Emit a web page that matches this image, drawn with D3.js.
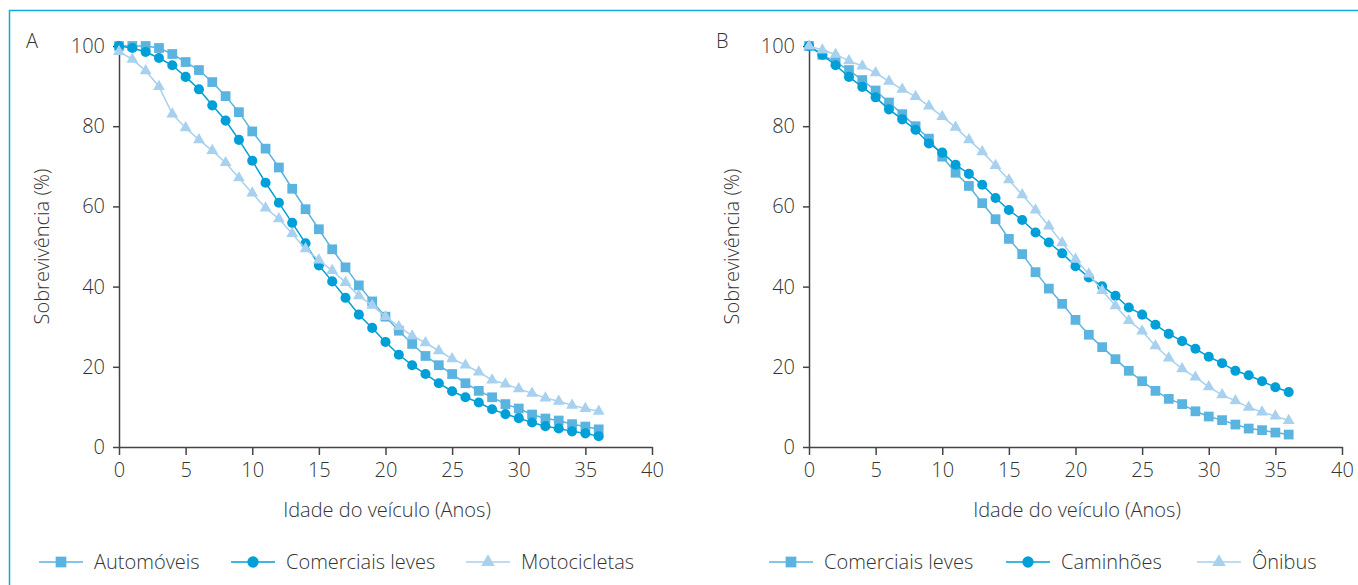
<!DOCTYPE html>
<html>
<head>
<meta charset="utf-8">
<script src="https://cdnjs.cloudflare.com/ajax/libs/d3/7.8.5/d3.min.js"></script>
<style>
  body { margin: 0; background: #fff; }
  svg text { font-family: "Open Sans", "Noto Sans", sans-serif; font-weight: 300; fill: #333; }
  .axis path, .axis line { stroke: #444; stroke-width: 1.5; }
  .axis text { fill: #333; }
</style>
</head>
<body>
<div id="chart"></div>
<script>
// ages 0..36
var ages = d3.range(0, 37);

// Panel A
var automoveis = [100, 100, 100, 99.5, 98, 96, 94, 91, 87.5, 83.5, 78.7, 74.4, 69.7, 64.4, 59.3,
  54.3, 49.3, 44.8, 40.3, 36.3, 32.5, 29.0, 25.7, 22.7, 20.4, 18.2, 15.9, 14.0, 12.4, 10.7,
  9.6, 8.1, 7.1, 6.6, 5.7, 5.1, 4.4];
var comerciaisA = [100, 99.5, 98.5, 97, 95.2, 92.3, 89.2, 85.2, 81.4, 76.6, 71.4, 65.9, 60.9, 55.9, 50.8,
  45.3, 41.3, 37.2, 33.0, 29.7, 26.2, 23.0, 20.4, 18.2, 15.9, 13.9, 12.4, 11.1, 9.4, 8.2,
  7.2, 6.1, 5.2, 4.6, 3.9, 3.4, 2.7];
var motocicletas = [98.6, 96.7, 93.8, 89.9, 83, 79.6, 76.6, 73.9, 70.9, 67.1, 63.3, 59.6, 56.9, 53.2, 49.4,
  46.6, 44.0, 41.0, 37.7, 35.3, 32.5, 30.0, 27.7, 26.0, 24.0, 22.0, 20.4, 18.7, 16.7, 15.7,
  14.5, 13.4, 12.2, 11.4, 10.4, 9.6, 8.9];

// Panel B
var comerciaisB = [100, 97.8, 96, 94, 91.5, 88.9, 85.9, 83.0, 80.0, 76.9, 72.4, 68.4, 65.1, 60.8, 56.8,
  51.9, 48.1, 43.6, 39.5, 35.7, 31.7, 28.0, 24.9, 21.9, 19.0, 16.4, 14.0, 12.0, 10.7, 8.9,
  7.6, 6.7, 5.6, 4.6, 4.2, 3.6, 3.1];
var caminhoes = [100, 97.8, 95.2, 92.3, 89.8, 87.2, 84.2, 81.7, 79.1, 75.7, 73.4, 70.4, 68.1, 65.4, 62.1,
  59.1, 56.6, 53.5, 51.0, 48.3, 45.1, 42.3, 40.1, 37.7, 34.8, 33.0, 30.5, 28.2, 26.4, 24.5,
  22.5, 20.9, 19.0, 17.9, 16.4, 14.9, 13.7];
var onibus = [100, 99, 97.9, 96.3, 95, 93.3, 91.2, 89.2, 87.4, 85.0, 82.4, 79.7, 76.6, 73.6, 70.2,
  66.6, 62.9, 59.1, 55.1, 50.9, 46.8, 43.1, 39.0, 35.2, 31.5, 28.9, 25.2, 22.2, 19.5, 17.4,
  15.0, 13.0, 11.5, 9.9, 8.7, 7.7, 6.6];

var xTicks = [0, 5, 10, 15, 20, 25, 30, 35, 40];
var yTicks = [0, 20, 40, 60, 80, 100];

var colSquare = "#5bb3df", colCircle = "#019fd7", colTriangle = "#a7d1ef";

var panels = [
  { label: "A", left: 119, series: [
    { name: "Automóveis", values: automoveis, symbol: d3.symbolSquare, color: colSquare, legendX: 39 },
    { name: "Comerciais leves", values: comerciaisA, symbol: d3.symbolCircle, color: colCircle, legendX: 231 },
    { name: "Motocicletas", values: motocicletas, symbol: d3.symbolTriangle, color: colTriangle, legendX: 466 }
  ]},
  { label: "B", left: 809, series: [
    { name: "Comerciais leves", values: comerciaisB, symbol: d3.symbolSquare, color: colSquare, legendX: 769 },
    { name: "Caminhões", values: caminhoes, symbol: d3.symbolCircle, color: colCircle, legendX: 1006 },
    { name: "Ônibus", values: onibus, symbol: d3.symbolTriangle, color: colTriangle, legendX: 1197 }
  ]}
];

var svg = d3.select("#chart").append("svg")
  .attr("width", 1358)
  .attr("height", 585);

// frame
svg.append("path")
  .attr("d", "M9.5,585 V10.5 H1358")
  .attr("fill", "none")
  .attr("stroke", "#12a8df")
  .attr("stroke-width", 1.5);

var plotW = 533, plotTop = 46, plotH = 401;

function markSize(sym) {
  if (sym === d3.symbolTriangle) return 60;
  if (sym === d3.symbolSquare) return 95;
  return 80;
}

panels.forEach(function(p) {
  var x = d3.scaleLinear().domain([0, 40]).range([p.left, p.left + plotW]);
  var y = d3.scaleLinear().domain([0, 100]).range([plotTop + plotH, plotTop]);

  svg.append("g")
    .attr("class", "axis")
    .attr("transform", `translate(0, ${plotTop + plotH})`)
    .call(d3.axisBottom(x).tickValues(xTicks).tickSize(8).tickSizeOuter(0).tickPadding(8))
    .call(g => g.selectAll("text").attr("font-size", 20).attr("font-family", null));

  svg.append("g")
    .attr("class", "axis")
    .attr("transform", `translate(${p.left}, 0)`)
    .call(d3.axisLeft(y).tickValues(yTicks).tickSize(6).tickSizeOuter(0).tickPadding(8))
    .call(g => g.selectAll("text").attr("font-size", 20).attr("font-family", null));

  // panel label
  svg.append("text")
    .attr("x", p.left - 93)
    .attr("y", 48)
    .attr("font-size", 20)
    .text(p.label);

  // axis titles
  svg.append("text")
    .attr("transform", `translate(${p.left - 70}, ${plotTop + plotH / 2}) rotate(-90)`)
    .attr("text-anchor", "middle")
    .attr("font-size", 20)
    .text("Sobrevivência (%)");

  svg.append("text")
    .attr("x", p.left + 268)
    .attr("y", 517)
    .attr("text-anchor", "middle")
    .attr("font-size", 20)
    .text("Idade do veículo (Anos)");

  var line = d3.line()
    .x((d, i) => x(ages[i]))
    .y(d => y(d));

  p.series.forEach(function(s) {
    var g = svg.append("g");
    g.append("path")
      .datum(s.values)
      .attr("d", line)
      .attr("fill", "none")
      .attr("stroke", s.color)
      .attr("stroke-width", 1.5);

    var size = markSize(s.symbol);
    g.selectAll("path.mark")
      .data(s.values)
      .enter()
      .append("path")
      .attr("class", "mark")
      .attr("d", d3.symbol().type(s.symbol).size(size))
      .attr("transform", (d, i) => `translate(${x(ages[i])}, ${y(d)})`)
      .attr("fill", s.color);

    // legend
    var lg = svg.append("g").attr("transform", `translate(${s.legendX}, 562)`);
    lg.append("line")
      .attr("x1", 0).attr("x2", 44)
      .attr("stroke", s.color)
      .attr("stroke-width", 1.5);
    lg.append("path")
      .attr("d", d3.symbol().type(s.symbol).size(size + 20))
      .attr("transform", "translate(22, 0)")
      .attr("fill", s.color);
    lg.append("text")
      .attr("x", 55)
      .attr("y", 7)
      .attr("font-size", 20)
      .text(s.name);
  });
});
</script>
</body>
</html>
